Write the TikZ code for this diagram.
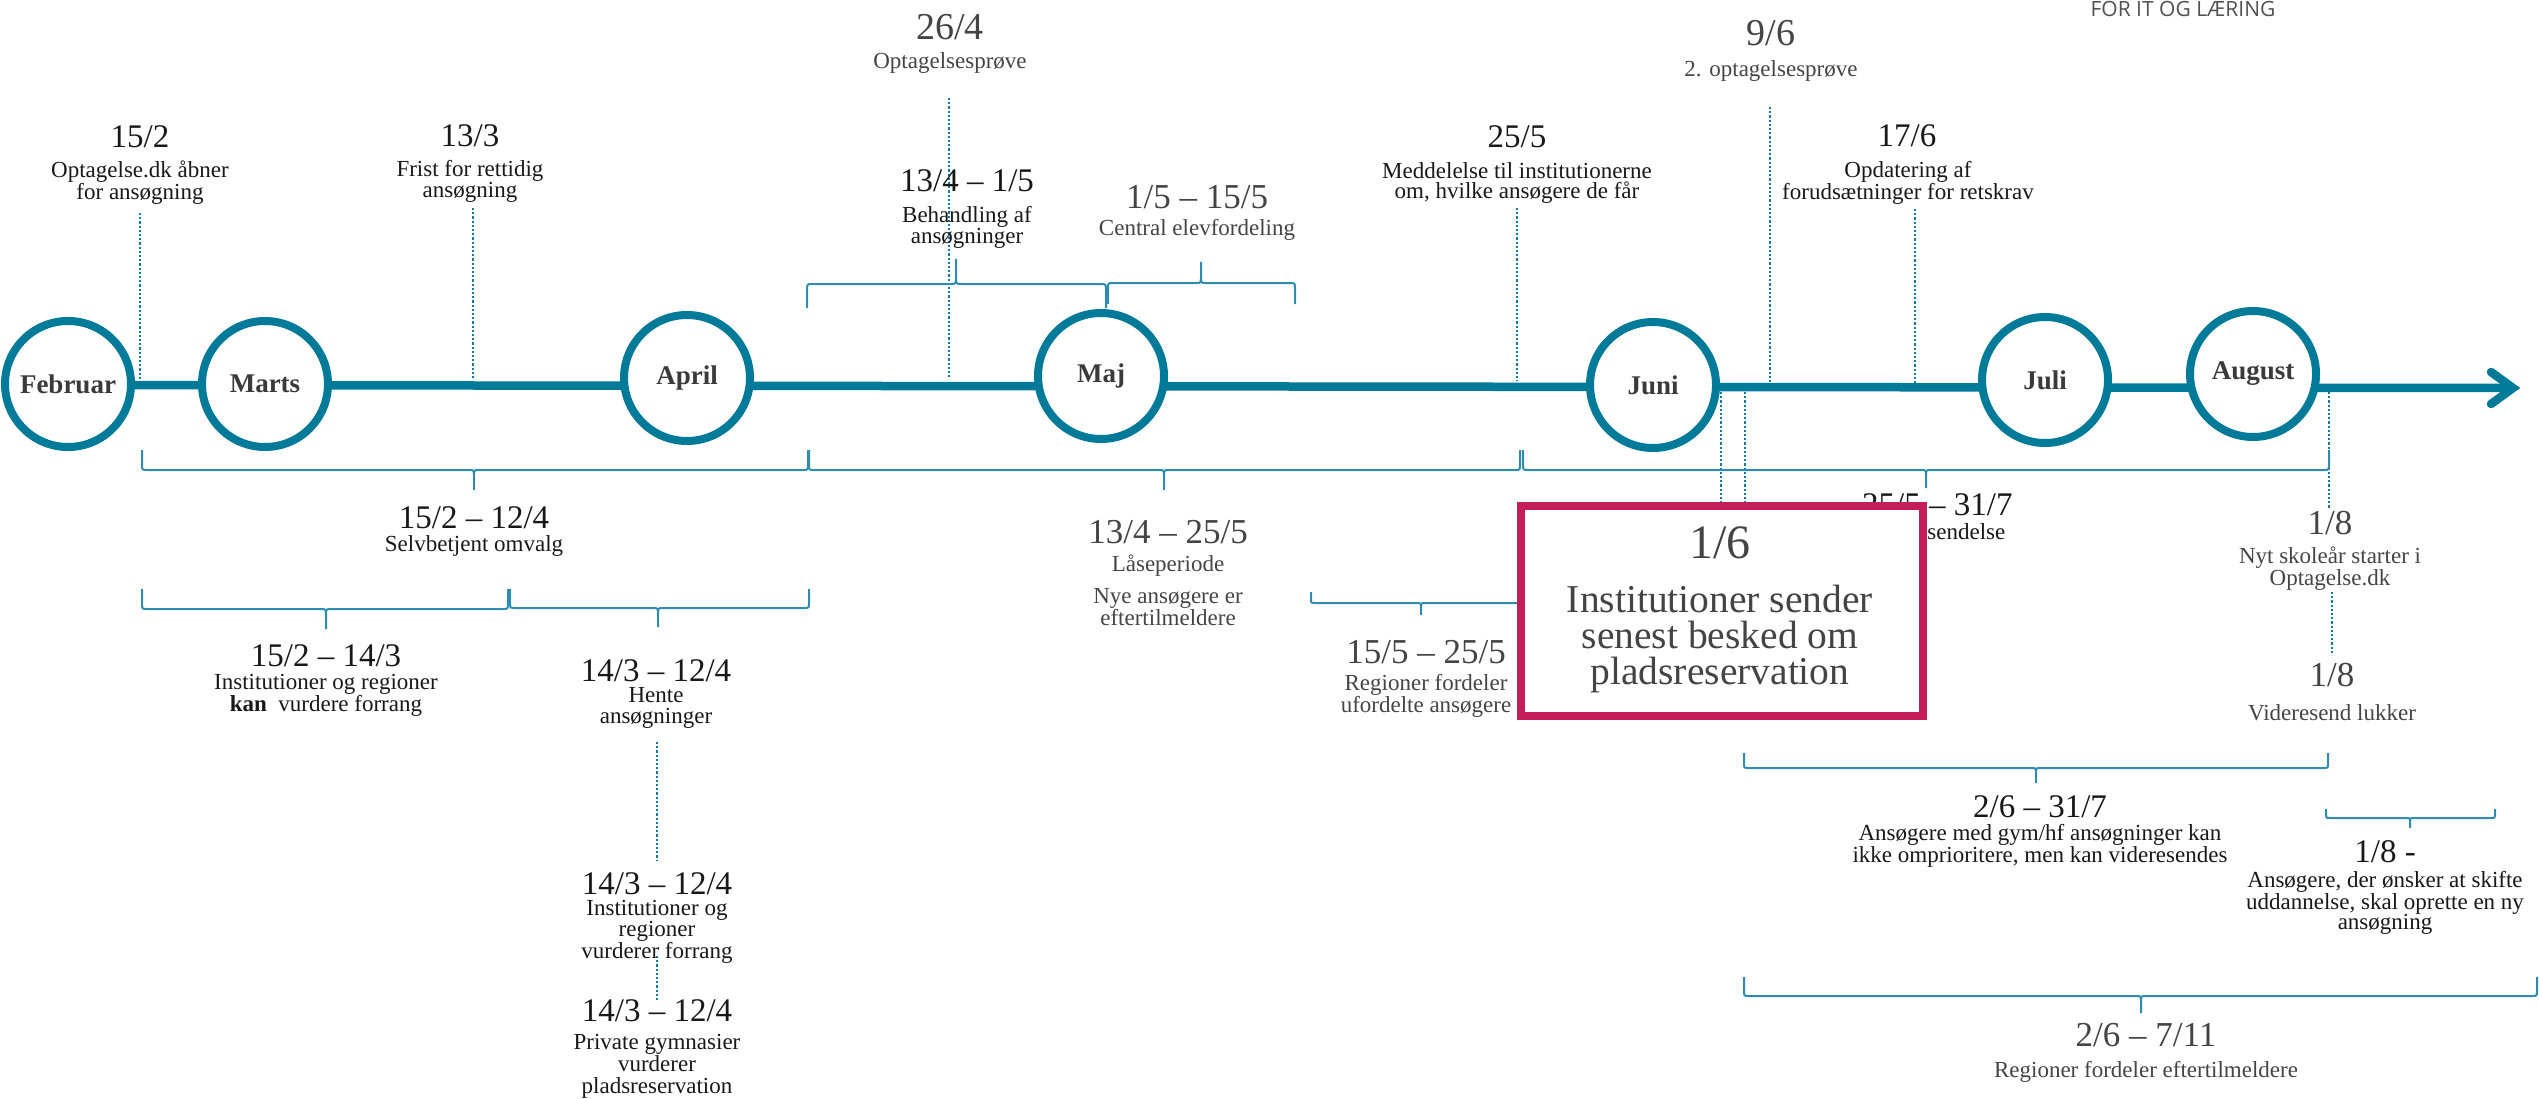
\documentclass[tikz,border=0pt]{standalone}
\usepackage{fontspec}
\setmainfont{Liberation Serif}
\newfontfamily\logofont{Open Sans}
\definecolor{tlteal}{RGB}{0,122,153}
\definecolor{tlbrace}{RGB}{45,140,175}
\definecolor{tldot}{RGB}{16,124,158}
\definecolor{tlpink}{RGB}{196,30,90}
\definecolor{tlblack}{RGB}{24,24,24}
\definecolor{tlgray}{RGB}{68,68,68}
\definecolor{tlmonth}{RGB}{58,58,58}
\definecolor{tllogo}{RGB}{80,80,80}
% x1, x2, xm, yflat, yends, ytip
\newcommand{\tlbrace}[6]{%
  \draw[bracel] (#1,#5) -- ({#1},{#4+0.3*(#5-#4)}) .. controls (#1,#4) .. ({#1+5},#4)
   -- ({#3-5},#4) .. controls (#3,#4) .. (#3,{#4+0.35*(#6-#4)}) -- (#3,#6)
   (#3,{#4+0.35*(#6-#4)}) .. controls (#3,#4) .. ({#3+5},#4)
   -- ({#2-5},#4) .. controls (#2,#4) .. (#2,{#4+0.3*(#5-#4)}) -- (#2,#5);}
\begin{document}
\begin{tikzpicture}[x=1pt,y=-1pt,
  month/.style={circle, draw=tlteal, line width=8pt, fill=white, minimum size=126pt,
    inner sep=0pt, text=tlmonth, font=\fontsize{27}{30}\selectfont\bfseries},
  mainline/.style={draw=tlteal, line width=8.5pt},
  arrowhd/.style={draw=tlteal, line width=8.5pt, line cap=round, line join=miter},
  leader/.style={draw=tldot, line width=2.4pt, dash pattern=on 2.2pt off 2pt},
  bracel/.style={draw=tlbrace, line width=2pt},
  dt/.style={inner sep=0pt, text=tlblack, font=\fontsize{33}{34}\selectfont},
  lbl/.style={inner sep=0pt, text=tlblack, align=center, font=\fontsize{23}{20.8}\selectfont},
  gdt/.style={inner sep=0pt, text=tlgray, font=\fontsize{35}{36}\selectfont},
  glbl/.style={lbl, text=tlgray},
  pinkbox/.style={rectangle, draw=tlpink, line width=8.6pt, fill=white, inner sep=0pt,
    minimum width=402pt, minimum height=210pt},
  boxdate/.style={inner sep=0pt, text=tlgray, font=\fontsize{48}{50}\selectfont},
  boxtxt/.style={inner sep=0pt, text=tlgray, align=center, font=\fontsize{39.5}{35.7}\selectfont}
]
\useasboundingbox (0,0) rectangle (2539,1099);

% ---- main timeline ----
\path (68,385) coordinate (lstart) (2513,388) coordinate (tip)
      (2491,372) coordinate (arrA) (2491,404) coordinate (arrB);
\draw[mainline] (lstart) -- (tip);
\draw[arrowhd] (arrA) -- (tip) -- (arrB);

% ---- leader lines above ----
\path (140,213) coordinate (q1a) (140,380) coordinate (q1b)
      (473,208) coordinate (q2a) (473,380) coordinate (q2b)
      (949,98) coordinate (q3a) (949,379) coordinate (q3b)
      (1517,208) coordinate (q4a) (1517,381) coordinate (q4b)
      (1770,107) coordinate (q5a) (1770,383) coordinate (q5b)
      (1915,209) coordinate (q6a) (1915,383) coordinate (q6b);
\draw[leader] (q1a) -- (q1b);
\draw[leader] (q2a) -- (q2b);
\draw[leader] (q3a) -- (q3b);
\draw[leader] (q4a) -- (q4b);
\draw[leader] (q5a) -- (q5b);
\draw[leader] (q6a) -- (q6b);

% ---- leader lines below ----
\path (1721,392) coordinate (j1a) (1721,504) coordinate (j1b)
      (1745,392) coordinate (j2a) (1745,504) coordinate (j2b)
      (2329,392) coordinate (g1a) (2329,508) coordinate (g1b)
      (2332,592) coordinate (g2a) (2332,655) coordinate (g2b)
      (657,742) coordinate (h1a) (657,860) coordinate (h1b)
      (657,956) coordinate (h2a) (657,1000) coordinate (h2b);
\draw[leader] (j1a) -- (j1b);
\draw[leader] (j2a) -- (j2b);
\draw[leader] (g1a) -- (g1b);
\draw[leader] (g2a) -- (g2b);
\draw[leader] (h1a) -- (h1b);
\draw[leader] (h2a) -- (h2b);

% ---- month circles ----
\node[month] (feb) at (68,384) {Februar};
\node[month] (mar) at (265,384) {Marts};
\node[month] (apr) at (687,378) {April};
\node[month] (maj) at (1101,376) {Maj};
\node[month] (jun) at (1653,385) {Juni};
\node[month] (jul) at (2045,380) {Juli};
\node[month] (aug) at (2253,374) {August};

% ---- braces ----
\tlbrace{807}{1106}{956}{284}{308}{259}
\tlbrace{1108}{1295}{1201}{283}{304}{262}
\tlbrace{142}{808}{474}{470}{450}{490}
\tlbrace{809}{1520}{1164}{470}{450}{490}
\tlbrace{1523}{2329}{1926}{470}{450}{488}
\tlbrace{142}{508}{326}{609}{589}{629}
\tlbrace{510}{809}{658}{608}{589}{627}
\tlbrace{1311}{1521}{1421}{603}{592}{615}
\tlbrace{1744}{2328}{2036}{768}{753}{783}
\tlbrace{2326}{2495}{2410}{818}{809}{828}
\tlbrace{1744}{2537}{2141}{996}{977}{1013}

% ---- top labels ----
\node[dt] (d152) at (140,137) {15/2};
\node[lbl] (l152) at (140,183) {Optagelse.dk åbner\\for ansøgning};
\node[dt] (d133) at (470,136) {13/3};
\node[lbl] (l133) at (470,181) {Frist for rettidig\\ansøgning};
\node[gdt, font=\fontsize{38}{40}\selectfont] (d264) at (950,27) {26/4};
\node[glbl] (l264) at (950,63) {Optagelsesprøve};
\node[dt] (d134) at (967,181) {13/4 – 1/5};
\node[lbl] (l134) at (967,227) {Behandling af\\ansøgninger};
\node[gdt] (d15) at (1197,197) {1/5 – 15/5};
\node[glbl] (l15) at (1197,230) {Central elevfordeling};
\node[dt] (d255) at (1517,137) {25/5};
\node[lbl] (l255) at (1517,183) {Meddelelse til institutionerne\\om, hvilke ansøgere de får};
\node[gdt, font=\fontsize{38}{40}\selectfont] (d96) at (1771,33) {9/6};
\node[glbl] (l96) at (1771,71) {2. optagelsesprøve};
\node[dt] (d176) at (1907,136) {17/6};
\node[lbl] (l176) at (1908,183) {Opdatering af\\forudsætninger for retskrav};
\node[inner sep=0pt, anchor=base, text=tllogo, font=\logofont\fontsize{21}{24}\selectfont] (logo) at (2183,17) {FOR IT OG LÆRING};

% ---- lower labels ----
\node[dt] (d1512) at (474,518) {15/2 – 12/4};
\node[lbl] (l1512) at (474,546) {Selvbetjent omvalg};
\node[dt] (d1514) at (326,656) {15/2 – 14/3};
\node[lbl] (l1514) at (326,695) {Institutioner og regioner\\\textbf{kan}\ \ vurdere forrang};
\node[dt] (d1412a) at (656,671) {14/3 – 12/4};
\node[lbl] (l1412a) at (656,708) {Hente\\ansøgninger};
\node[dt] (d1412b) at (657,884) {14/3 – 12/4};
\node[lbl] (l1412b) at (657,932) {Institutioner og\\regioner\\vurderer forrang};
\node[dt] (d1412c) at (657,1011) {14/3 – 12/4};
\node[lbl, font=\fontsize{23}{22}\selectfont] (l1412c) at (657,1066) {Private gymnasier\\vurderer\\pladsreservation};
\node[gdt] (d1325) at (1168,532) {13/4 – 25/5};
\node[glbl] (l1325a) at (1168,566) {Låseperiode};
\node[glbl] (l1325b) at (1168,607) {Nye ansøgere er\\eftertilmeldere};
\node[gdt] (d1525) at (1426,652) {15/5 – 25/5};
\node[glbl] (l1525) at (1426,696) {Regioner fordeler\\ufordelte ansøgere};
\node[dt, anchor=west] (d2531) at (1862,505) {25/5 – 31/7};
\node[lbl, anchor=west] (l2531) at (1866,532) {Videresendelse};
\node[gdt] (d18a) at (2330,523) {1/8};
\node[glbl] (l18a) at (2330,569) {Nyt skoleår starter i\\Optagelse.dk};
\node[gdt] (d18b) at (2332,675) {1/8};
\node[glbl] (l18b) at (2332,713) {Videresend lukker};
\node[dt] (d2631) at (2040,807) {2/6 – 31/7};
\node[lbl] (l2631) at (2040,846) {Ansøgere med gym/hf ansøgninger kan\\ikke omprioritere, men kan videresendes};
\node[dt] (d18c) at (2385,852) {1/8 -};
\node[lbl] (l18c) at (2385,903) {Ansøgere, der ønsker at skifte\\uddannelse, skal oprette en ny\\ansøgning};
\node[gdt] (d2671) at (2146,1035) {2/6 – 7/11};
\node[glbl] (l2671) at (2146,1072) {Regioner fordeler eftertilmeldere};

% ---- highlighted box ----
\node[pinkbox] (box) at (1722,611) {};
\node[boxdate] (bdate) at (1720,543) {1/6};
\node[boxtxt] (btxt) at (1720,639) {Institutioner sender\\senest besked om\\pladsreservation};
\end{tikzpicture}
\end{document}
